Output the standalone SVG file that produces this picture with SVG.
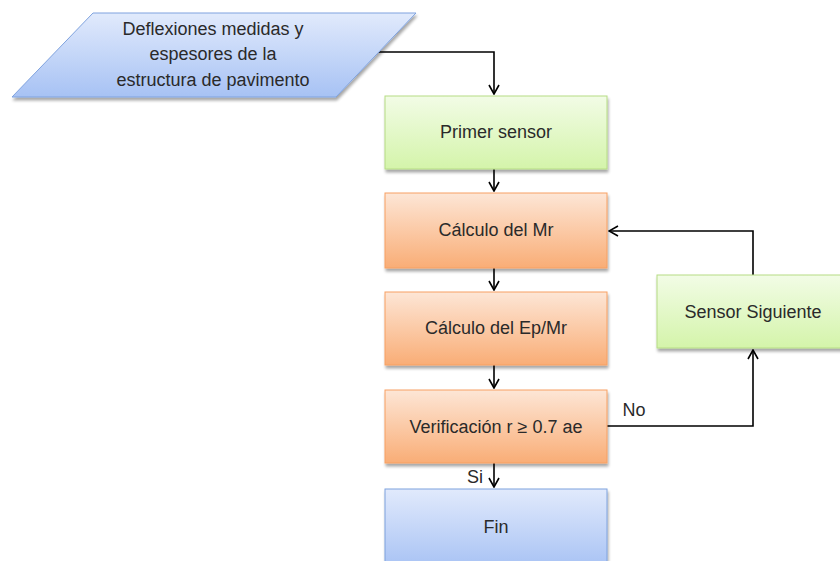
<svg xmlns="http://www.w3.org/2000/svg" width="840" height="561" viewBox="0 0 840 561">
  <defs>
    <linearGradient id="gBlue" x1="0" y1="0" x2="0" y2="1">
      <stop offset="0" stop-color="#e1eafc"/>
      <stop offset="1" stop-color="#a7c2f4"/>
    </linearGradient>
    <linearGradient id="gGreen" x1="0" y1="0" x2="0" y2="1">
      <stop offset="0" stop-color="#f2fce6"/>
      <stop offset="1" stop-color="#d4f4aa"/>
    </linearGradient>
    <linearGradient id="gOrange" x1="0" y1="0" x2="0" y2="1">
      <stop offset="0" stop-color="#fde6d6"/>
      <stop offset="1" stop-color="#f9ad76"/>
    </linearGradient>
    <filter id="shadow" x="-10%" y="-10%" width="130%" height="140%">
      <feGaussianBlur in="SourceAlpha" stdDeviation="1.5"/>
      <feOffset dx="1" dy="2.5" result="b"/>
      <feComponentTransfer><feFuncA type="linear" slope="0.35"/></feComponentTransfer>
      <feMerge><feMergeNode/><feMergeNode in="SourceGraphic"/></feMerge>
    </filter>
    <marker id="arrow" viewBox="0 0 12 12" refX="11" refY="6" markerWidth="12" markerHeight="12" markerUnits="userSpaceOnUse" orient="auto">
      <path d="M2,1 L11,6 L2,11" fill="none" stroke="#000" stroke-width="1.6"/>
    </marker>
  </defs>
  <style>
    .lbl { font-family: "Century Gothic", "Liberation Sans", Arial, sans-serif; font-size: 18px; fill: #2a2a2a; text-anchor: middle; dominant-baseline: central; }
    .blue { fill: url(#gBlue); stroke: #7fa2de; stroke-width: 1; }
    .green { fill: url(#gGreen); stroke: #b6dc84; stroke-width: 1; }
    .orange { fill: url(#gOrange); stroke: #f7a062; stroke-width: 1; }
    .conn { fill: none; stroke: #000; stroke-width: 1.6; }
  </style>

  <rect width="840" height="561" fill="#ffffff"/>

  <!-- flow connectors -->
  <g id="connectors">
    <path class="conn" d="M377,52 H494 V94" marker-end="url(#arrow)"/>
    <path class="conn" d="M494,169 V191" marker-end="url(#arrow)"/>
    <path class="conn" d="M494,268 V290" marker-end="url(#arrow)"/>
    <path class="conn" d="M494,365 V388" marker-end="url(#arrow)"/>
    <path class="conn" d="M494,463 V487" marker-end="url(#arrow)"/>
    <path class="conn" d="M607,426 H753 V350" marker-end="url(#arrow)"/>
    <path class="conn" d="M753,275 V231 H609" marker-end="url(#arrow)"/>
    <text class="lbl" x="634" y="410">No</text>
    <text class="lbl" x="475" y="477">Si</text>
  </g>

  <g id="input">
    <polygon class="blue" filter="url(#shadow)" points="93,13 416,13 336,97 12,97"/>
    <text class="lbl" x="213" y="29">Deflexiones medidas y</text>
    <text class="lbl" x="213" y="54">espesores de la</text>
    <text class="lbl" x="213" y="80">estructura de pavimento</text>
  </g>

  <g id="primer-sensor">
    <rect class="green" filter="url(#shadow)" x="385" y="96" width="222" height="73"/>
    <text class="lbl" x="496" y="132">Primer sensor</text>
  </g>

  <g id="calculo-mr">
    <rect class="orange" filter="url(#shadow)" x="385" y="193" width="222" height="75"/>
    <text class="lbl" x="496" y="230">Cálculo del Mr</text>
  </g>

  <g id="calculo-ep-mr">
    <rect class="orange" filter="url(#shadow)" x="385" y="292" width="222" height="73"/>
    <text class="lbl" x="496" y="328">Cálculo del Ep/Mr</text>
  </g>

  <g id="verificacion">
    <rect class="orange" filter="url(#shadow)" x="385" y="390" width="222" height="73"/>
    <text class="lbl" x="496" y="427">Verificación r ≥ 0.7 ae</text>
  </g>

  <g id="fin">
    <rect class="blue" filter="url(#shadow)" x="385" y="489" width="222" height="80"/>
    <text class="lbl" x="496" y="527">Fin</text>
  </g>

  <g id="sensor-siguiente">
    <rect class="green" filter="url(#shadow)" x="657" y="275" width="195" height="73"/>
    <text class="lbl" x="753" y="312">Sensor Siguiente</text>
  </g>
</svg>
